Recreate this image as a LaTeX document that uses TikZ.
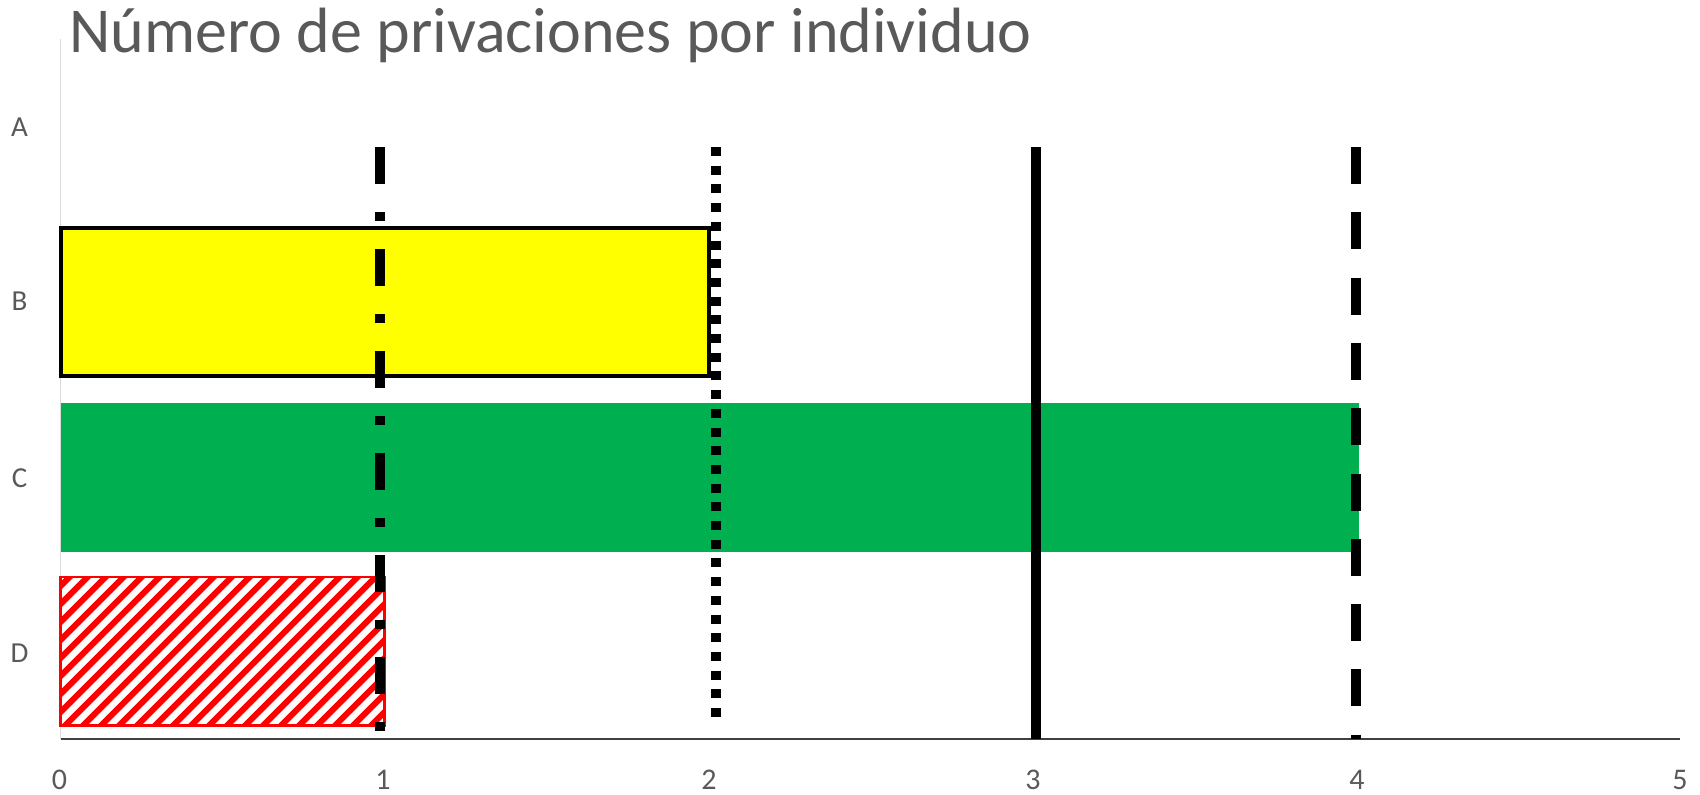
\documentclass[tikz,border=0pt]{standalone}
\usepackage{fontspec}
\setmainfont{Carlito}
\definecolor{txtgray}{HTML}{595959}
\definecolor{axgray}{HTML}{D9D9D9}
\definecolor{axdark}{HTML}{404040}
\definecolor{barY}{HTML}{FFFF00}
\definecolor{barG}{HTML}{00B050}
\definecolor{barR}{HTML}{FF0000}
\begin{document}
\begin{tikzpicture}[x=1pt,y=-1pt,
  cat/.style={text=txtgray,font=\fontsize{29}{29}\selectfont,anchor=base,inner sep=0pt},
  tick/.style={text=txtgray,font=\fontsize{30}{30}\selectfont,anchor=base,inner sep=0pt},
  refline/.style={line width=9.5pt,black},
  hatch/.style={barR,line width=6pt}]
\useasboundingbox (0,0) rectangle (1700,795);
\fill[white] (0,0) rectangle (1700,795);
% title
\node[anchor=base west,inner sep=0pt,text=txtgray,font=\fontsize{64}{64}\selectfont] (title) at (69,52) {Número de privaciones por individuo};
% y axis
\draw[axgray,line width=1.5pt] (60.7,39) -- (60.7,739);
% bars
\fill[barG] (60.7,403) rectangle (1359,552);
\filldraw[fill=barY,draw=black,line width=4pt] (60.7,228) rectangle (708.7,376);
\begin{scope}
  \clip (60.7,577) rectangle (384.7,725.5);
  \foreach \i in {-162,-144,...,340} {
    \draw[hatch] (60.7+\i,730) -- ++(160,-160);
  }
\end{scope}
\draw[barR,line width=2.5pt] (60.7,577) rectangle (384.7,725.5);
% x axis
\draw[axdark,line width=2pt] (60.7,739) -- (1680,739);
% reference lines
\draw[refline,dash pattern=on 37pt off 28pt on 9pt off 28pt] (380,147) -- (380,735);
\draw[refline,dash pattern=on 9pt off 9.7pt] (715.8,147) -- (715.8,717);
\draw[refline] (1035.8,147) -- (1035.8,739);
\draw[refline,dash pattern=on 37pt off 28.3pt] (1356,147) -- (1356,739);
% category labels
\node[cat] (lA) at (19.5,136.5) {A};
\node[cat] (lB) at (19.5,310) {B};
\node[cat] (lC) at (19.5,487) {C};
\node[cat] (lD) at (19.5,662) {D};
% tick labels
\node[tick] (t0) at (59.5,789) {0};
\node[tick] (t1) at (383,789) {1};
\node[tick] (t2) at (709,789) {2};
\node[tick] (t3) at (1033,789) {3};
\node[tick] (t4) at (1357,789) {4};
\node[tick] (t5) at (1680,789) {5};
\end{tikzpicture}
\end{document}
